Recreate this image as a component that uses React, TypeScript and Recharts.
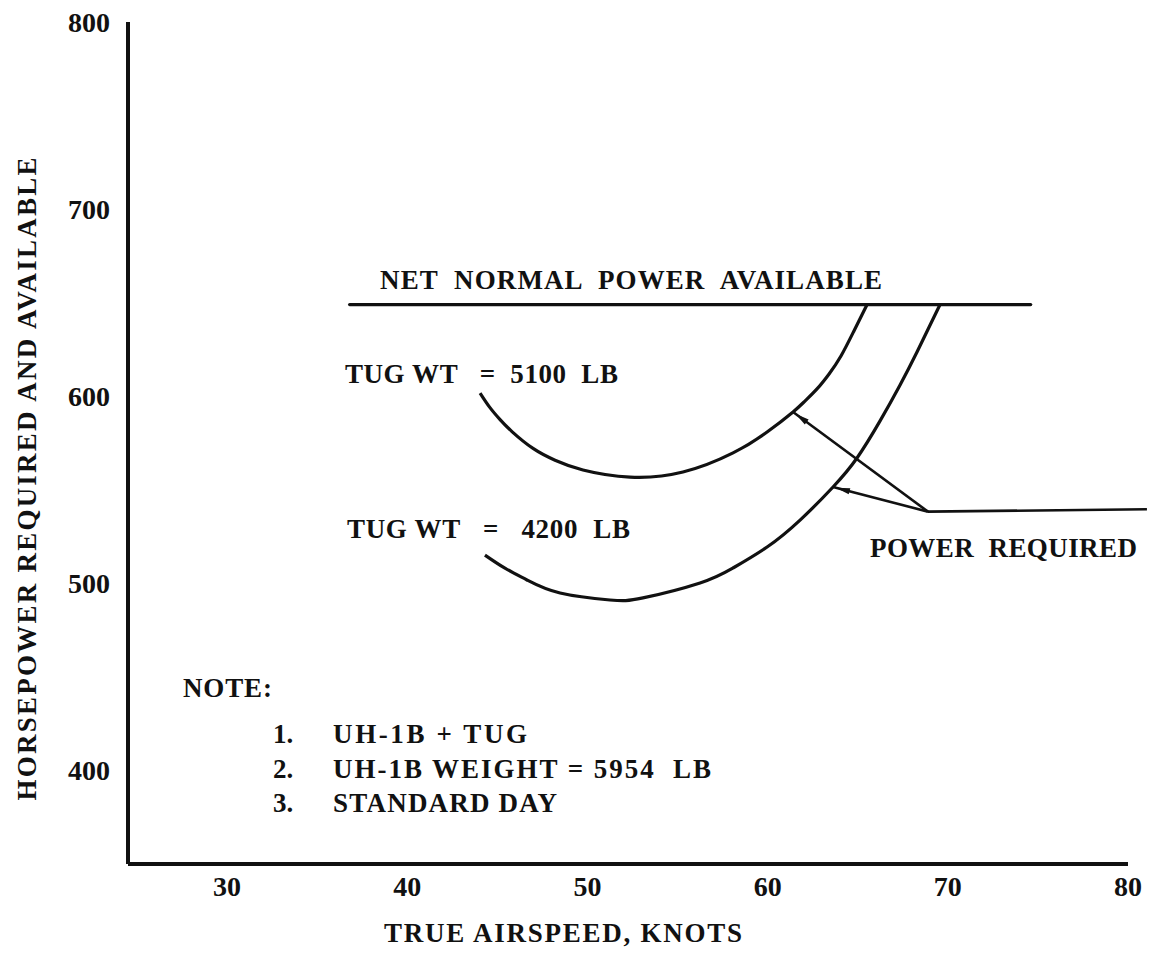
import React from 'react';
import { ComposedChart, Line, XAxis, YAxis, ReferenceLine, ReferenceDot } from 'recharts';

const FONT = '"Liberation Serif", "Times New Roman", serif';
const INK = '#111';

const xTicks = [30, 40, 50, 60, 70, 80];
const yTicks = [400, 500, 600, 700, 800];

// net normal power available (flat line)
const powerAvailable = [
  { x: 36.8, y: 649 },
  { x: 74.6, y: 649 },
];

// power required, tug wt = 5100 lb
const tug5100 = [
  { x: 44.04, y: 601.7 },
  { x: 44.59, y: 593.9 },
  { x: 45.15, y: 587.5 },
  { x: 45.81, y: 581.1 },
  { x: 46.98, y: 572.1 },
  { x: 48.2, y: 565.8 },
  { x: 49.75, y: 560.6 },
  { x: 52.36, y: 556.8 },
  { x: 55.3, y: 559.5 },
  { x: 58.08, y: 569.7 },
  { x: 59.97, y: 580.9 },
  { x: 61.41, y: 591.6 },
  { x: 62.07, y: 597.4 },
  { x: 62.74, y: 603.9 },
  { x: 63.41, y: 611.9 },
  { x: 64.07, y: 621.5 },
  { x: 64.79, y: 634.9 },
  { x: 65.52, y: 649 },
];

// power required, tug wt = 4200 lb
const tug4200 = [
  { x: 44.31, y: 515.1 },
  { x: 45.42, y: 508.1 },
  { x: 46.64, y: 501.8 },
  { x: 48.48, y: 494.8 },
  { x: 51.25, y: 491.1 },
  { x: 53.08, y: 492.2 },
  { x: 56.25, y: 500.2 },
  { x: 58.08, y: 508.2 },
  { x: 59.97, y: 519.4 },
  { x: 61.8, y: 533.8 },
  { x: 63.63, y: 551.5 },
  { x: 64.96, y: 567.0 },
  { x: 66.24, y: 586.8 },
  { x: 67.35, y: 606.0 },
  { x: 68.29, y: 623.6 },
  { x: 69.57, y: 649 },
];

// "POWER REQUIRED" leader lines
const leaderJoint = { x: 68.9, y: 538.3 };
const leaderTips = [
  { x: 61.41, y: 591.6 },
  { x: 63.63, y: 551.5 },
];
const leaderTailEnd = { x: 81.05, y: 539.6 };

// texts placed at data coords: left edge / baseline, width in px
const annotations = [
  { text: 'NET  NORMAL  POWER  AVAILABLE', x: 38.49, y: 657.3, w: 502 },
  { text: 'TUG WT   =  5100  LB', x: 36.54, y: 607.1, w: 273 },
  { text: 'TUG WT   =   4200  LB', x: 36.65, y: 524.2, w: 283 },
  { text: 'POWER  REQUIRED', x: 65.68, y: 514.1, w: 267 },
  { text: 'NOTE:', x: 27.55, y: 439.3, w: 89 },
];

const noteNums = ['1.', '2.', '3.'];
const noteLines = ['UH-1B + TUG', 'UH-1B WEIGHT = 5954  LB', 'STANDARD DAY'];
const noteWidths = [194, 378, 224];
const noteY = [414.7, 396.0, 377.8];

const textStyle = { fontFamily: FONT, fontWeight: 700, fill: INK } as const;

const textShape = (text: string, w?: number, size = 27) => (p: any) => (
  <text
    x={p.cx}
    y={p.cy}
    {...textStyle}
    fontSize={size}
    style={{ whiteSpace: 'pre' }}
    textLength={w}
    lengthAdjust={w ? 'spacing' : undefined}
  >
    {text}
  </text>
);

const Leader = (p: any) => {
  const { x1, y1, x2, y2 } = p;
  const dx = x2 - x1;
  const dy = y2 - y1;
  const len = Math.hypot(dx, dy) || 1;
  const ux = dx / len;
  const uy = dy / len;
  const tx = x2 - ux * 3;
  const ty = y2 - uy * 3;
  const bx = x2 - ux * 17;
  const by = y2 - uy * 17;
  const nx = -uy * 3.2;
  const ny = ux * 3.2;
  return (
    <g>
      <line x1={x1} y1={y1} x2={x2} y2={y2} stroke={INK} strokeWidth={2.6} />
      <polygon points={`${tx},${ty} ${bx + nx},${by + ny} ${bx - nx},${by - ny}`} fill={INK} />
    </g>
  );
};

const Plain = (p: any) => (
  <line x1={p.x1} y1={p.y1} x2={p.x2} y2={p.y2} stroke={INK} strokeWidth={2.6} />
);

const YTitle = ({ viewBox }: any) => {
  const cx = viewBox.x + 27;
  const cy = viewBox.y + viewBox.height / 2 + 36;
  return (
    <text
      x={cx}
      y={cy}
      transform={`rotate(-90, ${cx}, ${cy})`}
      textAnchor="middle"
      dominantBaseline="central"
      {...textStyle}
      fontSize={27}
      textLength={643}
      lengthAdjust="spacing"
    >
      HORSEPOWER REQUIRED AND AVAILABLE
    </text>
  );
};

const XTitle = ({ viewBox }: any) => (
  <text
    x={viewBox.x + 435}
    y={viewBox.y + 78}
    textAnchor="middle"
    {...textStyle}
    fontSize={27}
    textLength={358}
    lengthAdjust="spacing"
  >
    TRUE AIRSPEED, KNOTS
  </text>
);

export default function App() {
  return (
    <div style={{ background: '#fff', width: 1149, height: 958 }}>
      <style>{'body{margin:0}'}</style>
      <ComposedChart width={1149} height={958} margin={{ top: 22, right: 21, bottom: 0, left: 0 }}>
        <XAxis
          type="number"
          dataKey="x"
          domain={[24.5, 80]}
          ticks={xTicks}
          height={94}
          tickLine={false}
          tickSize={0}
          tickMargin={12}
          axisLine={{ stroke: INK, strokeWidth: 4 }}
          tick={{ ...textStyle, fontSize: 28 }}
          label={{ content: XTitle }}
        />
        <YAxis
          type="number"
          dataKey="y"
          domain={[350, 800]}
          ticks={yTicks}
          width={128}
          tickLine={false}
          tickSize={0}
          tickMargin={18}
          axisLine={{ stroke: INK, strokeWidth: 4 }}
          tick={{ ...textStyle, fontSize: 28 }}
          label={{ content: YTitle }}
        />
        <Line
          data={powerAvailable}
          dataKey="y"
          stroke={INK}
          strokeWidth={3.2}
          strokeLinecap="round"
          dot={false}
          isAnimationActive={false}
        />
        <Line
          data={tug5100}
          dataKey="y"
          type="natural"
          stroke={INK}
          strokeWidth={3.2}
          dot={false}
          isAnimationActive={false}
        />
        <Line
          data={tug4200}
          dataKey="y"
          type="natural"
          stroke={INK}
          strokeWidth={3.2}
          dot={false}
          isAnimationActive={false}
        />
        {leaderTips.map((tip, i) => (
          <ReferenceLine key={i} segment={[leaderJoint, tip]} shape={Leader} ifOverflow="visible" />
        ))}
        <ReferenceLine segment={[leaderJoint, leaderTailEnd]} shape={Plain} ifOverflow="visible" />
        {annotations.map((a) => (
          <ReferenceDot key={a.text} x={a.x} y={a.y} r={0} shape={textShape(a.text, a.w)} ifOverflow="visible" />
        ))}
        {noteLines.map((t, i) => (
          <ReferenceDot key={'n' + i} x={32.55} y={noteY[i]} r={0} shape={textShape(noteNums[i])} />
        ))}
        {noteLines.map((t, i) => (
          <ReferenceDot key={'l' + i} x={35.88} y={noteY[i]} r={0} shape={textShape(t, noteWidths[i])} />
        ))}
      </ComposedChart>
    </div>
  );
}
